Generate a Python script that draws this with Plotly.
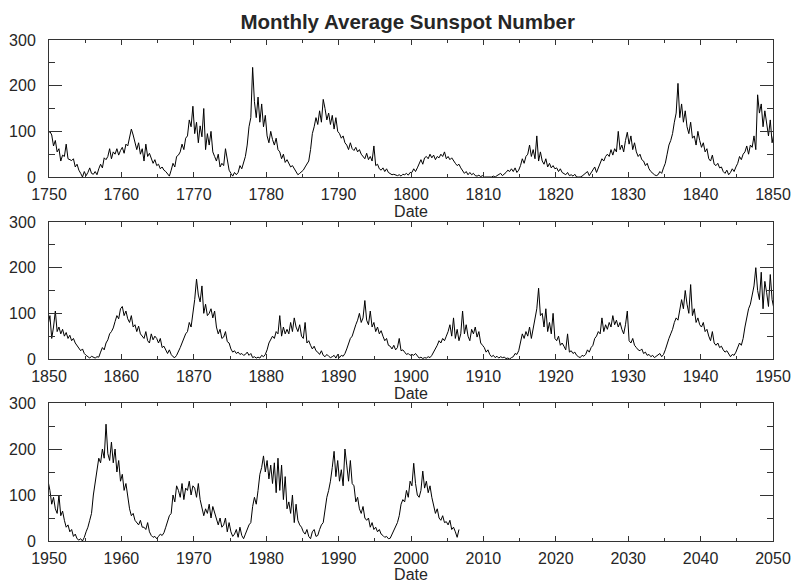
import plotly.graph_objects as go

# Quarterly estimates of the monthly average sunspot number
ssn_1749_1849 = [
    58, 83, 78, 95,   100, 92, 68, 80,   55, 62, 35, 48,   45, 72, 40, 38,   36, 40, 22, 28,
    15, 8, 0, 12,     3, 10, 20, 8,      6, 12, 5, 18,     28, 20, 42, 38,   45, 62, 40, 55,
    50, 62, 48, 58,   65, 52, 72, 68,    88, 105, 92, 78,  60, 75, 50, 62,   35, 72, 45, 52,
    40, 30, 38, 25,   28, 18, 22, 15,    12, 8, 2, 15,     30, 22, 45, 48,   55, 72, 60, 85,
    90, 125, 110, 155, 95, 120, 75, 112, 88, 150, 60, 95,  70, 100, 55, 45,  35, 50, 22, 30,
    25, 62, 38, 15,   8, 2, 10, 5,       10, 25, 18, 30,   45, 70, 110, 130, 240, 165, 130, 175,
    120, 160, 110, 135, 90, 75, 100, 82, 70, 85, 60, 55,  40, 50, 32, 38,   28, 22, 25, 18,
    10, 5, 8, 12,     15, 22, 30, 35,    60, 95, 110, 130, 115, 145, 120, 170, 150, 125, 140, 115,
    135, 105, 130, 100, 95, 85, 90, 75,  70, 60, 75, 62,   58, 65, 55, 60,   50, 45, 40, 52,
    38, 45, 35, 68,   25, 28, 18, 15,    20, 12, 18, 10,   8, 5, 6, 4,       3, 5, 2, 6,
    5, 8, 4, 10,      10, 18, 12, 20,    30, 38, 28, 42,   45, 40, 50, 42,   48, 38, 45, 42,
    50, 45, 55, 40,   45, 38, 42, 35,    30, 25, 28, 20,   15, 8, 12, 5,     10, 5, 8, 3,
    2, 4, 1, 3,       0, 0, 0, 0,        0, 2, 0, 3,       5, 8, 3, 6,       10, 15, 12, 18,
    12, 20, 10, 15,   25, 40, 30, 45,    50, 70, 45, 60,   40, 90, 35, 55,   35, 28, 40, 22,
    30, 20, 25, 18,   20, 12, 18, 10,    8, 5, 10, 3,      5, 2, 6, 0,       0, 0, 2, 5,
    8, 12, 3, 10,     15, 22, 10, 20,    30, 40, 35, 45,   50, 45, 60, 48,   62, 55, 100, 60,
    70, 55, 80, 98,   72, 90, 60, 75,    55, 45, 50, 38,   35, 25, 30, 18,   12, 8, 5, 3,
    5, 12, 8, 20,     30, 50, 70, 80,    95, 120, 140, 205, 130, 160, 120, 145, 110, 95, 120, 85,
    90, 70, 100, 80,  65, 75, 55, 62,    40, 35, 48, 28,   25, 30, 20, 22,   12, 8, 15, 5,
    10, 18, 12, 22,   30, 45, 38, 50,    55, 68, 50, 70,   65, 90, 60, 180,  140, 160, 110, 145,
    120, 90, 125, 75,
]
ssn_1850_1949 = [
    95, 45, 70, 105,  60, 70, 55, 65,    50, 58, 45, 52,   40, 45, 35, 30,   25, 18, 22, 12,
    8, 5, 2, 6,       3, 2, 5, 4,        15, 25, 20, 35,   42, 55, 60, 68,   82, 95, 88, 110,
    115, 95, 105, 88, 80, 95, 70, 75,    60, 72, 55, 50,   45, 60, 40, 35,   55, 42, 50, 45,
    35, 45, 25, 28,   18, 12, 20, 10,    5, 3, 8, 15,      25, 35, 45, 55,   60, 80, 70, 100,
    130, 175, 140, 125, 160, 100, 120, 95, 100, 110, 90, 105, 70, 55, 65, 45, 48, 60, 38, 35,
    22, 15, 18, 12,   15, 10, 12, 8,     10, 15, 8, 12,    3, 5, 2, 4,       2, 8, 5, 10,
    20, 35, 42, 50,   45, 60, 55, 95,    50, 70, 55, 65,   55, 80, 60, 90,   70, 60, 75, 50,
    45, 80, 35, 40,   30, 22, 28, 18,    15, 10, 18, 8,    5, 10, 6, 3,      5, 8, 2, 10,
    3, 8, 6, 12,      22, 35, 45, 50,    65, 75, 85, 100,  80, 90, 128, 85,  75, 105, 70, 80,
    60, 70, 55, 62,   50, 40, 45, 30,    28, 22, 30, 20,   25, 45, 18, 20,   15, 10, 12, 8,
    10, 8, 12, 6,     2, 4, 1, 3,        2, 5, 3, 8,       15, 25, 30, 40,   35, 45, 40, 50,
    60, 75, 50, 90,   45, 65, 40, 55,    105, 55, 75, 50,  40, 65, 55, 70,   48, 60, 35, 30,
    25, 15, 20, 10,   5, 8, 3, 6,        2, 5, 3, 4,       1, 2, 0, 3,       5, 12, 10, 18,
    35, 55, 45, 60,   50, 70, 45, 65,    85, 110, 155, 95, 100, 70, 110, 60, 80, 55, 100, 45,
    40, 50, 30, 35,   28, 20, 55, 15,    18, 12, 15, 8,    5, 3, 8, 6,       10, 20, 15, 25,
    30, 45, 50, 60,   55, 90, 60, 75,    65, 80, 70, 95,   75, 85, 70, 80,   65, 55, 75, 105,
    40, 35, 45, 30,   25, 20, 18, 22,    12, 15, 8, 10,    5, 8, 3, 6,       8, 12, 5, 10,
    20, 35, 45, 55,   65, 80, 90, 85,    105, 130, 110, 150, 120, 100, 163, 95, 110, 80, 90, 75,
    70, 80, 60, 65,   50, 40, 60, 35,    30, 35, 25, 28,   20, 15, 18, 10,   5, 10, 8, 15,
    25, 35, 30, 45,   70, 90, 110, 120,  140, 160, 200, 150, 130, 190, 110, 170, 145, 115, 185, 130,
]
ssn_1950_2006 = [
    110, 80, 95, 70,  60, 100, 55, 65,   45, 30, 35, 20,   25, 10, 15, 5,    2, 5, 0, 8,
    20, 30, 45, 60,   100, 130, 160, 180, 170, 200, 180, 254, 190, 175, 215, 170, 200, 150, 175, 130,
    145, 110, 125, 95, 70, 55, 60, 45,   40, 35, 45, 30,   30, 25, 40, 20,   12, 8, 10, 5,
    10, 15, 12, 18,   30, 45, 55, 60,    100, 85, 120, 110, 95, 125, 90, 115, 110, 130, 100, 120,
    115, 95, 125, 90, 75, 55, 70, 60,    80, 50, 75, 60,   45, 35, 50, 30,   35, 50, 20, 40,
    20, 10, 15, 25,   8, 30, 12, 5,      15, 25, 35, 40,   75, 95, 80, 110,  145, 160, 185, 150,
    175, 135, 165, 125, 170, 105, 180, 110, 165, 90, 140, 70, 85, 60, 100, 40, 80, 45, 35, 30,
    20, 15, 25, 10,   5, 20, 25, 10,     12, 25, 35, 40,   70, 95, 110, 130, 160, 195, 140, 175,
    130, 155, 120, 200, 165, 130, 175, 125, 120, 85, 95, 70, 60, 75, 50, 45,  50, 30, 40, 25,
    30, 20, 25, 15,   12, 8, 10, 5,      6, 15, 25, 30,    40, 55, 80, 90,   85, 110, 95, 130,
    120, 169, 125, 100, 95, 110, 152, 115, 130, 105, 120, 95, 80, 60, 70, 50, 45, 55, 40, 42,
    35, 45, 25, 30,   20, 8, 25,
]
start_year = 1749
per_year = 4
x_ranges = [[1750, 1850], [1850, 1950], [1950, 2050]]
y_ticks = [0, 100, 200, 300]
title_text = "Monthly Average Sunspot Number"
x_title = "Date"

ssn = ssn_1749_1849 + ssn_1850_1949 + ssn_1950_2006
dates = [start_year + (i + 0.5) / per_year for i in range(len(ssn))]

FONT = "Liberation Sans, Arial, Helvetica, sans-serif"
AX = "#333333"
TXT = "#262626"

fig = go.Figure()
layout = dict(
    width=793, height=583,
    margin=dict(l=49, r=20, t=40, b=42, autoexpand=False),
    paper_bgcolor="white", plot_bgcolor="white",
    showlegend=False,
    font=dict(family=FONT, size=16, color=TXT),
    title=dict(text=title_text, x=407.7 / 793, xanchor="center",
               y=1 - 22 / 583, yanchor="middle", yref="container",
               font=dict(family=FONT, size=20.5, color=TXT, weight="bold")),
)
domains = [[0.7265, 1.0], [0.3633, 0.6367], [0.0, 0.2754]]
for k in range(3):
    sfx = "" if k == 0 else str(k + 1)
    lo, hi = x_ranges[k]
    fig.add_trace(go.Scatter(x=dates, y=ssn, mode="lines",
                             line=dict(color="black", width=1),
                             xaxis="x" + sfx, yaxis="y" + sfx, hoverinfo="skip"))
    layout["xaxis" + sfx] = dict(
        domain=[0, 1], anchor="y" + sfx, range=[lo, hi], automargin=False,
        tickvals=list(range(lo, hi + 1, 10)), ticks="inside", ticklen=5, tickcolor=AX,
        minor=dict(tickvals=list(range(lo + 5, hi, 10)), ticks="inside", ticklen=3, tickcolor=AX),
        showline=True, linecolor=AX, linewidth=1, mirror="ticks",
        showgrid=False, zeroline=False, ticklabeloverflow="allow",
        ticklabelstandoff=3,
        tickfont=dict(family=FONT, size=16, color=TXT),
        title=dict(text=x_title, standoff=3, font=dict(family=FONT, size=16, color=TXT)),
    )
    layout["yaxis" + sfx] = dict(
        domain=domains[k], anchor="x" + sfx, range=[0, 300], automargin=False,
        tickvals=y_ticks, ticks="inside", ticklen=13, tickcolor=AX,
        minor=dict(tickvals=[50, 150, 250], ticks="inside", ticklen=6, tickcolor=AX),
        showline=True, linecolor=AX, linewidth=1, mirror="ticks",
        showgrid=False, zeroline=False, ticklabelstandoff=9,
        tickfont=dict(family=FONT, size=16, color=TXT),
    )
fig.update_layout(**layout)
fig.write_html("out.html")
